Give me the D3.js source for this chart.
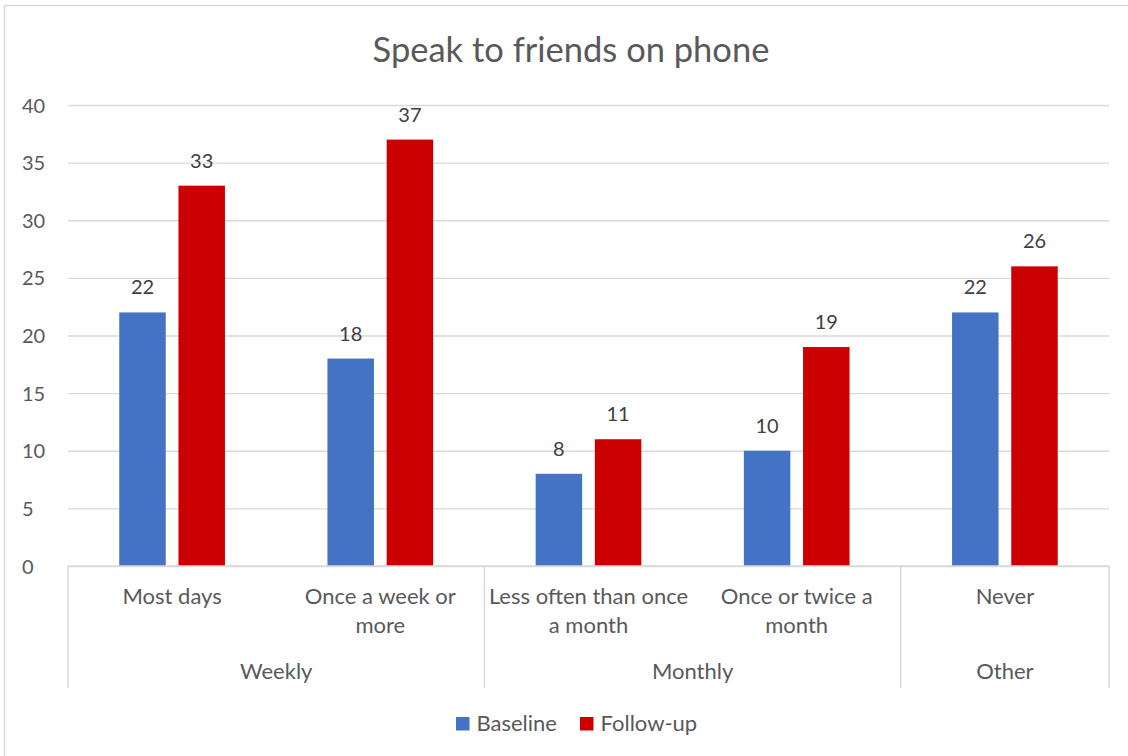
<!DOCTYPE html>
<html>
<head>
<meta charset="utf-8">
<script src="https://cdn.jsdelivr.net/npm/d3@7"></script>
<style>
  html, body { margin: 0; padding: 0; background: #fff; }
  svg { display: block; font-family: Lato, "Open Sans", sans-serif; }
</style>
</head>
<body>
<svg id="chart" width="1128" height="756"></svg>
<script>
// Survey answers: how often respondents speak to friends on the phone
const categories = ["Most days", "Once a week or more", "Less often than once a month", "Once or twice a month", "Never"];
const categoryLines = [["Most days"], ["Once a week or", "more"], ["Less often than once", "a month"], ["Once or twice a", "month"], ["Never"]];
const groups = ["Weekly", "Monthly", "Other"];
const groupSizes = [2, 2, 1];
const seriesNames = ["Baseline", "Follow-up"];
const baseline = [22, 18, 8, 10, 22];
const followUp = [33, 37, 11, 19, 26];
const yTicks = [0, 5, 10, 15, 20, 25, 30, 35, 40];
const colors = ["#4472C4", "#CC0000"];

const svg = d3.select("#chart");
const textColor = "#595959";
const gridColor = "#D9D9D9";
const textSize = 22;
const numSize = 20;

// chart frame
svg.append("rect")
  .attr("x", 4.5).attr("y", 5.5)
  .attr("width", 1140).attr("height", 770)
  .attr("fill", "#fff").attr("stroke", gridColor).attr("stroke-width", 1.5);

const plot = { left: 68, right: 1109, top: 105, bottom: 566 };

const x = d3.scaleBand().domain(categories).range([plot.left, plot.right]).paddingInner(0).paddingOuter(0);
const xInner = d3.scaleBand().domain(seriesNames).range([0, x.bandwidth()]).paddingInner(0.2145).paddingOuter(0.866);
const y = d3.scaleLinear().domain([0, 40]).range([plot.bottom, plot.top]);

// title
svg.append("text")
  .attr("x", 571).attr("y", 62)
  .attr("text-anchor", "middle")
  .attr("font-size", 34.5)
  .attr("fill", textColor)
  .text("Speak to friends on phone");

// gridlines and value axis labels
const yAxis = d3.axisLeft(y).tickValues(yTicks).tickSize(-(plot.right - plot.left)).tickPadding(24);
const gy = svg.append("g").attr("transform", `translate(${plot.left},0)`).call(yAxis);
gy.select(".domain").remove();
gy.selectAll(".tick line").attr("stroke", gridColor).attr("stroke-width", 1.3);
gy.selectAll(".tick text")
  .attr("font-size", numSize).attr("fill", textColor)
  .attr("font-family", "Lato, 'Open Sans', sans-serif")
  .attr("text-anchor", "start").attr("x", -(plot.left - 22)).attr("dy", "0.35em");

// bars with value labels
const series = [baseline, followUp];
const barG = svg.append("g");
series.forEach((vals, si) => {
  barG.selectAll(null).data(vals).enter().append("rect")
    .attr("x", (d, i) => x(categories[i]) + xInner(seriesNames[si]))
    .attr("y", d => y(d))
    .attr("width", xInner.bandwidth())
    .attr("height", d => y(0) - y(d))
    .attr("fill", colors[si]);
  barG.selectAll(null).data(vals).enter().append("text")
    .attr("x", (d, i) => x(categories[i]) + xInner(seriesNames[si]) + xInner.bandwidth() / 2)
    .attr("y", d => y(d) - 18)
    .attr("text-anchor", "middle")
    .attr("font-size", numSize)
    .attr("fill", "#404040")
    .text(d => d);
});

// category axis line
svg.append("line")
  .attr("x1", plot.left).attr("x2", plot.right)
  .attr("y1", plot.bottom).attr("y2", plot.bottom)
  .attr("stroke", gridColor).attr("stroke-width", 1.5);

// group separators
let idx = 0;
const bounds = [0];
groupSizes.forEach(n => { idx += n; bounds.push(idx); });
bounds.forEach(b => {
  const xx = b < categories.length ? x(categories[b]) : plot.right;
  svg.append("line")
    .attr("x1", xx).attr("x2", xx)
    .attr("y1", plot.bottom).attr("y2", 688)
    .attr("stroke", gridColor).attr("stroke-width", 1.5);
});

// category labels
categoryLines.forEach((lines, i) => {
  const cx = x(categories[i]) + x.bandwidth() / 2;
  lines.forEach((ln, li) => {
    svg.append("text")
      .attr("x", cx).attr("y", 604 + li * 29)
      .attr("text-anchor", "middle")
      .attr("font-size", textSize).attr("fill", textColor)
      .text(ln);
  });
});

// group labels
groups.forEach((g, gi) => {
  const x0 = x(categories[bounds[gi]]);
  const x1 = bounds[gi + 1] < categories.length ? x(categories[bounds[gi + 1]]) : plot.right;
  svg.append("text")
    .attr("x", (x0 + x1) / 2).attr("y", 679)
    .attr("text-anchor", "middle")
    .attr("font-size", textSize).attr("fill", textColor)
    .text(g);
});

// legend
const legendItems = [{ name: "Baseline", x: 456 }, { name: "Follow-up", x: 580 }];
legendItems.forEach((item, i) => {
  svg.append("rect")
    .attr("x", item.x).attr("y", 717)
    .attr("width", 13.5).attr("height", 13.5)
    .attr("fill", colors[i]);
  svg.append("text")
    .attr("x", item.x + 20.5).attr("y", 731)
    .attr("font-size", textSize).attr("fill", textColor)
    .text(item.name);
});
</script>
</body>
</html>
